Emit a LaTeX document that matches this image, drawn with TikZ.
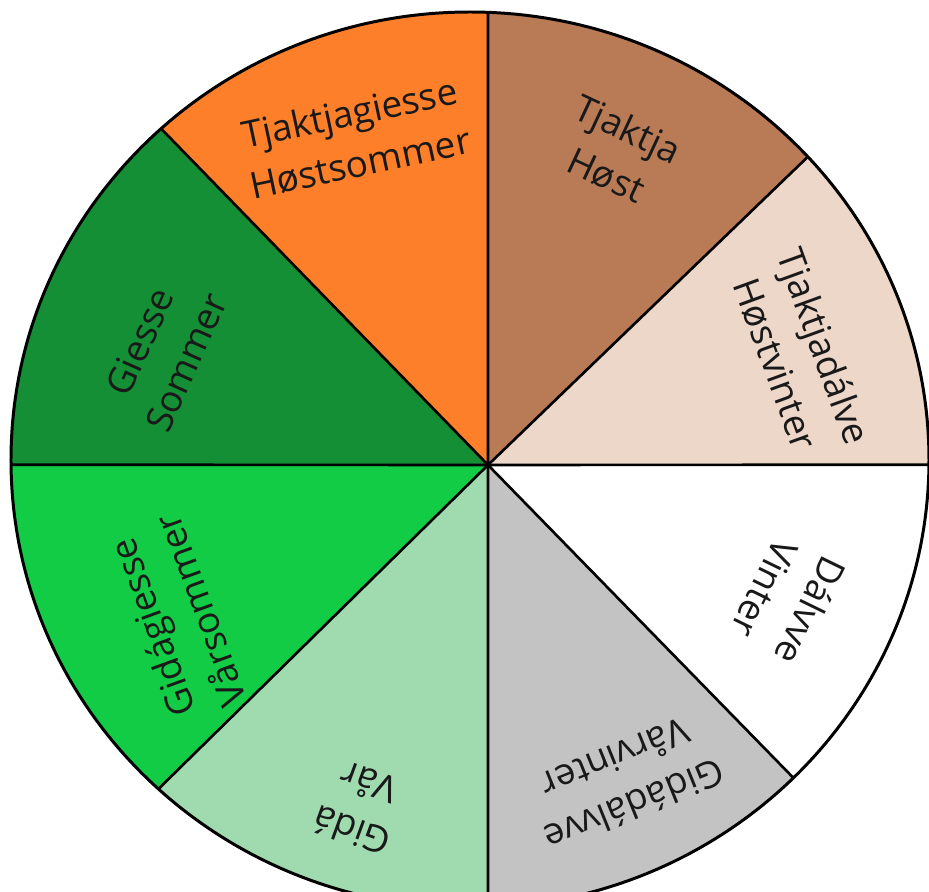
\documentclass[tikz,border=0pt]{standalone}
\usepackage{fontspec}
\setmainfont{Open Sans}
\usetikzlibrary{calc}
\definecolor{hostvinter}{RGB}{237,215,201}
\definecolor{host}{RGB}{185,123,86}
\definecolor{hostsommer}{RGB}{253,127,42}
\definecolor{sommer}{RGB}{20,143,54}
\definecolor{varsommer}{RGB}{18,204,70}
\definecolor{var}{RGB}{160,219,176}
\definecolor{varvinter}{RGB}{195,195,195}
\definecolor{vinter}{RGB}{255,255,255}

\begin{document}
\begin{tikzpicture}[
  line width=1.5pt,  rim/.style={draw=black,line width=1.7pt},  season/.style={align=center,inner sep=0pt,text=black!90,font=\fontsize{21}{29}\selectfont},  sector/.style={x radius=9.18,y radius=8.96}
]
  \useasboundingbox (-9.76,-8.54) rectangle (8.82,9.30);
  \clip (-9.76,-8.54) rectangle (8.82,9.30);
  \coordinate (h) at (0,0);
  \coordinate (c) at (-0.36,0.10);
  \coordinate (r0) at ($(c)+(-0.6:9.18 and 8.96)$);
  \coordinate (r1) at ($(c)+(42.6:9.18 and 8.96)$);
  \coordinate (r2) at ($(c)+(87.75:9.18 and 8.96)$);
  \coordinate (r3) at ($(c)+(132.3:9.18 and 8.96)$);
  \coordinate (r4) at ($(c)+(180.6:9.18 and 8.96)$);
  \coordinate (r5) at ($(c)+(227.25:9.18 and 8.96)$);
  \coordinate (r6) at ($(c)+(272.25:9.18 and 8.96)$);
  \coordinate (r7) at ($(c)+(314.8:9.18 and 8.96)$);
  \fill[hostvinter] (h) -- (r0) arc[sector,start angle=-0.6,end angle=42.6] -- cycle;
  \fill[host] (h) -- (r1) arc[sector,start angle=42.6,end angle=87.75] -- cycle;
  \fill[hostsommer] (h) -- (r2) arc[sector,start angle=87.75,end angle=132.3] -- cycle;
  \fill[sommer] (h) -- (r3) arc[sector,start angle=132.3,end angle=180.6] -- cycle;
  \fill[varsommer] (h) -- (r4) arc[sector,start angle=180.6,end angle=227.25] -- cycle;
  \fill[var] (h) -- (r5) arc[sector,start angle=227.25,end angle=272.25] -- cycle;
  \fill[varvinter] (h) -- (r6) arc[sector,start angle=272.25,end angle=314.8] -- cycle;
  \fill[vinter] (h) -- (r7) arc[sector,start angle=314.8,end angle=359.4] -- cycle;
  \draw (h) -- (r0);
  \draw (h) -- (r1);
  \draw (h) -- (r2);
  \draw (h) -- (r3);
  \draw (h) -- (r4);
  \draw (h) -- (r5);
  \draw (h) -- (r6);
  \draw (h) -- (r7);
  \draw[rim] (c) ellipse [sector];
  \node[season,rotate=-70] (l0) at (6.24,2.20) {Tjaktjadálve\\Høstvinter};
  \node[season,rotate=-25] (l1) at (2.58,6.26) {Tjaktja\\Høst};
  \node[season,rotate=12] (l2) at (-2.66,6.54) {Tjaktjagiesse\\Høstsommer};
  \node[season,rotate=66] (l3) at (-6.50,2.26) {Giesse\\Sommer};
  \node[season,rotate=110] (l4) at (-6.24,-3.08) {Gidágiesse\\Vårsommer};
  \node[season,rotate=160] (l5) at (-2.56,-6.84) {Gidá\\Vår};
  \node[season,rotate=-158] (l6) at (2.74,-6.34) {Gidádálvve\\Vårvinter};
  \node[season,rotate=-116] (l7) at (6.00,-2.70) {Dálvve\\Vinter};
\end{tikzpicture}
\end{document}
